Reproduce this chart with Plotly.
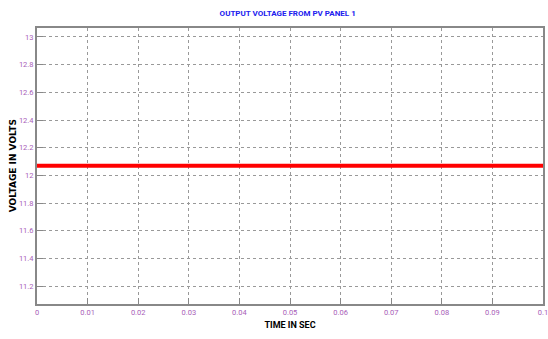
import plotly.graph_objects as go

time_sec = [0.0, 0.01, 0.02, 0.03, 0.04, 0.05, 0.06, 0.07, 0.08, 0.09, 0.1]
voltage = [12.07, 12.07, 12.07, 12.07, 12.07, 12.07, 12.07, 12.07, 12.07, 12.07, 12.07]
x_ticks = [0, 0.01, 0.02, 0.03, 0.04, 0.05, 0.06, 0.07, 0.08, 0.09, 0.1]
y_ticks = [11.2, 11.4, 11.6, 11.8, 12, 12.2, 12.4, 12.6, 12.8, 13]

fig = go.Figure()
fig.add_trace(go.Scatter(x=time_sec, y=voltage, mode="lines",
                         line=dict(color="#ff0000", width=4), showlegend=False))

narrow = "Liberation Sans Narrow, Arial Narrow, Roboto, sans-serif"
tickfont = dict(family=narrow, size=7.5, color="#a860b8")
fig.update_layout(
    width=548, height=339,
    margin=dict(l=37, r=5, t=28, b=35),
    paper_bgcolor="white", plot_bgcolor="white",
    title=dict(text="<b>OUTPUT VOLTAGE FROM PV PANEL 1</b>", x=0.525, xanchor="center",
               y=0.962, yanchor="middle",
               font=dict(family=narrow, size=8, color="#2020ee")),
    xaxis=dict(range=[0, 0.1], tickvals=x_ticks, ticktext=[str(v) for v in x_ticks],
               showgrid=True, gridcolor="#999999", griddash="dot", gridwidth=1,
               ticks="inside", ticklen=6, tickcolor="#888888",
               showline=True, linecolor="#888888", linewidth=2, mirror=True,
               tickfont=tickfont, zeroline=False, automargin=False,
               ticklabeloverflow="allow",
               title=dict(text="<b>TIME IN SEC</b>", standoff=6,
                          font=dict(family=narrow, size=9, color="black"))),
    yaxis=dict(range=[11.07, 13.065], tickvals=y_ticks, ticktext=[f"{v:g}" for v in y_ticks],
               showgrid=True, gridcolor="#999999", griddash="dot", gridwidth=1,
               ticks="inside", ticklen=6, tickcolor="#888888",
               showline=True, linecolor="#888888", linewidth=2, mirror=True,
               tickfont=tickfont, zeroline=False, automargin=False,
               ticklabeloverflow="allow"),
)
fig.add_annotation(text="<b>VOLTAGE IN VOLTS</b>", xref="paper", yref="paper",
                   x=-0.047, y=0.5, xanchor="center", yanchor="middle", textangle=-90,
                   showarrow=False,
                   font=dict(family="DejaVu Sans, sans-serif", size=9, color="black"))
fig.write_html("out.html")
